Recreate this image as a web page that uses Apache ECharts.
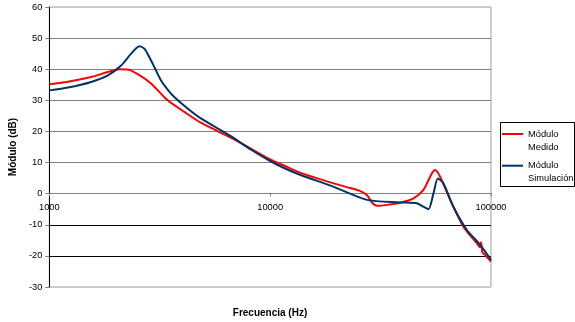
<!DOCTYPE html>
<html><head><meta charset="utf-8">
<script src="https://cdn.jsdelivr.net/npm/echarts@6/dist/echarts.min.js"></script>
<style>html,body{margin:0;padding:0;background:#fff}#c{width:575px;height:322px}</style>
</head><body><div id="c"></div>
<script>
const freqMedido = [1000,1214,1547,1841,2077,2266,2515,2887,3434,4083,4856,6632,8166,10000,11750,13730,19420,23090,25620,27470,29020,30480,33810,38820,44580,49440,53960,55850,58870,65300,74990,86120,89150,90170,91350,93000,100000];
const valMedido  = [35.2,36.0,37.5,39.1,40.0,39.9,38.4,35.4,30.0,26.3,22.8,18.0,14.5,11.0,8.8,6.7,3.3,1.8,0.8,-0.5,-3.0,-3.9,-3.6,-2.9,-1.5,1.2,6.5,7.6,5.4,-2.0,-10.6,-15.9,-17.2,-15.6,-18.8,-19.3,-21.8];
const freqSim = [1000,1214,1547,1841,2114,2345,2557,2693,2850,2988,3204,3440,3679,4228,4856,6632,8166,10000,11750,13730,19420,27470,38820,46200,49440,52120,54900,57450,60930,67570,77640,89150,100000];
const valSim  = [33.2,34.1,35.9,38.0,41.2,45.0,47.4,46.6,43.6,40.7,36.4,33.4,31.1,27.4,24.2,18.5,14.2,10.5,8.0,6.0,2.2,-2.0,-2.8,-3.1,-4.2,-5.0,0.1,4.9,3.3,-4.2,-11.6,-16.4,-21.3];
const seriesNames = ['Módulo\nMedido','Módulo\nSimulación'];
const xTitle = 'Frecuencia (Hz)';
const yTitle = 'Módulo (dB)';

const pairs = (f, v) => f.map((x, i) => [x, v[i]]);
const chart = echarts.init(document.getElementById('c'), null, {renderer:'canvas'});
const font = 'Arial, "Liberation Sans", sans-serif';
chart.setOption({
  animation:false,
  backgroundColor:'#ffffff',
  grid:{left:48, right:84, top:7, bottom:35, show:true, borderColor:'#a0a0a0', borderWidth:1},
  xAxis:{
    type:'log', logBase:10, min:1000, max:100000,
    position:'bottom', offset:-93.6,
    axisLine:{onZero:false, lineStyle:{color:'#808080', width:1}},
    axisTick:{show:true, length:3, lineStyle:{color:'#808080'}},
    axisLabel:{color:'#000', fontFamily:font, fontSize:9.3, margin:10, formatter:v => String(v)},
    splitLine:{show:false}, minorTick:{show:false}
  },
  yAxis:{
    type:'value', min:-30, max:60, interval:10,
    name:yTitle, nameLocation:'middle', nameGap:25,
    nameTextStyle:{fontFamily:font, fontSize:10, fontWeight:'bold', color:'#000'},
    axisLine:{show:true, lineStyle:{color:'#000', width:1}},
    axisTick:{show:true, length:4, lineStyle:{color:'#808080'}},
    axisLabel:{color:'#000', fontFamily:font, fontSize:9.3, margin:7},
    splitLine:{show:true, lineStyle:{color:['#c8c8c8','#000000','#000000','#808080','#808080','#808080','#808080','#808080','#808080','#c8c8c8'], width:1}}
  },
  legend:{
    orient:'vertical', left:502, top:114.5, itemWidth:21, itemHeight:2, itemGap:-7.3,
    icon:'rect', padding:0,
    formatter:name => '\n' + name,
    textStyle:{fontFamily:font, fontSize:9.3, color:'#000', lineHeight:13},
    data:seriesNames
  },
  graphic:[
    {type:'rect', shape:{x:500.5, y:122.5, width:74, height:64}, style:{fill:'none', stroke:'#000', lineWidth:1}, z:-1},
    {type:'text', style:{text:xTitle, x:270, y:313, align:'center', verticalAlign:'middle', font:'bold 10px Arial, "Liberation Sans", sans-serif', fill:'#000'}}
  ],
  series:[
    {name:seriesNames[0], type:'line', data:pairs(freqMedido, valMedido), showSymbol:false, smooth:0.25, lineStyle:{color:'#ff0000', width:2}, itemStyle:{color:'#ff0000'}, z:2},
    {name:seriesNames[1], type:'line', data:pairs(freqSim, valSim), showSymbol:false, smooth:0.25, lineStyle:{color:'#003366', width:2}, itemStyle:{color:'#003366'}, z:3}
  ]
});
</script></body></html>
